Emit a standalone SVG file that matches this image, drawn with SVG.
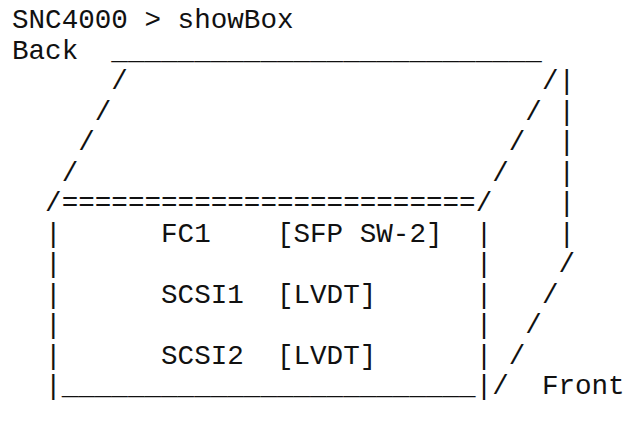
<svg xmlns="http://www.w3.org/2000/svg" width="632" height="440" viewBox="0 0 632 440">
<style>
text{font-family:"Liberation Mono","Courier New",monospace;font-size:27.6px;fill:#111;white-space:pre}
</style>
<rect width="632" height="440" fill="#fff"/>
<g id="prompt"><text x="12" y="28" xml:space="preserve">SNC4000 &gt; showBox</text></g>
<g id="box" xml:space="preserve">
<text x="12" y="59">Back  __________________________</text>
<text x="12" y="89">      /                         /|</text>
<text x="12" y="120">     /                         / |</text>
<text x="12" y="150">    /                         /  |</text>
<text x="12" y="181">   /                         /   |</text>
<text x="12" y="211">  /=========================/    |</text>
<text x="12" y="242">  |      FC1    [SFP SW-2]  |    |</text>
<text x="12" y="272">  |                         |    /</text>
<text x="12" y="303">  |      SCSI1  [LVDT]      |   /</text>
<text x="12" y="333">  |                         |  /</text>
<text x="12" y="364">  |      SCSI2  [LVDT]      | /</text>
<text x="12" y="394">  |_________________________|/  Front</text>
</g>
</svg>
